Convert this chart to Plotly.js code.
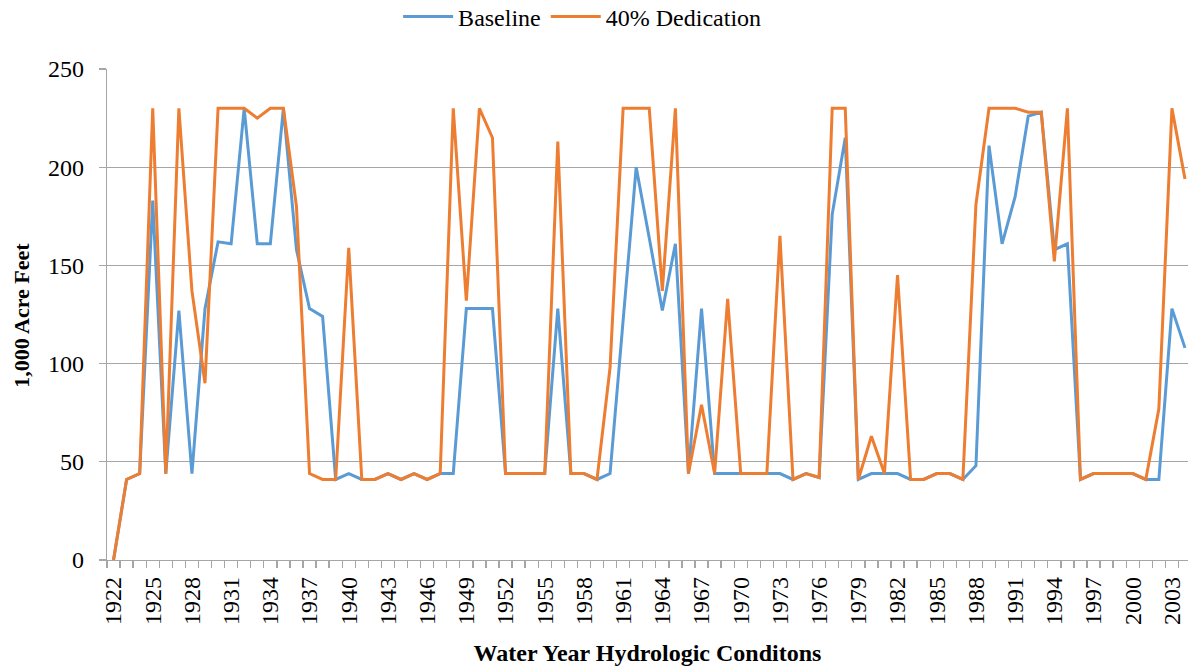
<!DOCTYPE html>
<html>
<head>
<meta charset="utf-8">
<script src="https://cdn.plot.ly/plotly-3.0.1.min.js"></script>
<style>html,body{margin:0;padding:0;background:#fff;overflow:hidden}</style>
</head>
<body>
<div id="chart" style="width:1188px;height:671px"></div>
<script>
const years = [];
for (let y = 1922; y <= 2004; y++) years.push(y);

const baseline = [
  0, 41, 44, 183, 44, 127, 44, 128, 162, 161,
  230, 161, 161, 230, 158, 128, 124, 41, 44, 41,
  41, 44, 41, 44, 41, 44, 44, 128, 128, 128,
  44, 44, 44, 44, 128, 44, 44, 41, 44, 121,
  200, 164, 127, 161, 44, 128, 44, 44, 44, 44,
  44, 44, 41, 44, 42, 176, 215, 41, 44, 44,
  44, 41, 41, 44, 44, 41, 48, 211, 161, 185,
  226, 228, 158, 161, 41, 44, 44, 44, 44, 41,
  41, 128, 108
];

const dedication40 = [
  0, 41, 44, 230, 44, 230, 137, 90, 230, 230,
  230, 225, 230, 230, 180, 44, 41, 41, 159, 41,
  41, 44, 41, 44, 41, 44, 230, 132, 230, 215,
  44, 44, 44, 44, 213, 44, 44, 41, 98, 230,
  230, 230, 137, 230, 44, 79, 44, 133, 44, 44,
  44, 165, 41, 44, 42, 230, 230, 41, 63, 44,
  145, 41, 41, 44, 44, 41, 181, 230, 230, 230,
  228, 228, 152, 230, 41, 44, 44, 44, 44, 41,
  77, 230, 194
];

const tickYears = [];
for (let y = 1922; y <= 2003; y += 3) tickYears.push(y);
const tickLabels = tickYears.map(String);

const seriesNames = ['Baseline', '40% Dedication'];
const seriesColors = ['#5B9BD5', '#ED7D31'];
const xTitle = 'Water Year Hydrologic Conditons';
const yTitle = '1,000 Acre Feet';

const serif = "'Liberation Serif', 'Times New Roman', serif";
const regular = "'Liberation Serif', 'Liberation Sans', sans-serif";

const traces = [
  {x: years, y: baseline, type: 'scatter', mode: 'lines', name: seriesNames[0],
   line: {color: seriesColors[0], width: 3}},
  {x: years, y: dedication40, type: 'scatter', mode: 'lines', name: seriesNames[1],
   line: {color: seriesColors[1], width: 3}}
];

const layout = {
  width: 1188, height: 671,
  margin: {l: 107, r: 0, t: 69, b: 111, autoexpand: false},
  paper_bgcolor: '#fff', plot_bgcolor: '#fff',
  font: {family: regular, size: 24, color: '#000'},
  showlegend: true,
  legend: {orientation: 'h', xref: 'container', yref: 'container',
           x: 0.49, xanchor: 'center', y: 0.975, yanchor: 'middle',
           font: {family: regular, size: 24, color: '#000'}, itemwidth: 50, tracegroupgap: 0},
  xaxis: {
    range: [1921.5, 2004.23],
    tickmode: 'array', tickvals: tickYears, ticktext: tickLabels,
    tickangle: -90, ticks: '', showgrid: false, zeroline: false,
    showline: true, linecolor: '#a6a6a6', linewidth: 1.3,
    tickfont: {family: regular, size: 24, color: '#000'},
    ticklabelstandoff: 6,
    minor: {tick0: 1921.5, dtick: 1, ticks: 'outside', ticklen: 7, tickcolor: '#a6a6a6', tickwidth: 1.3, showgrid: false},
    title: {text: '<b>' + xTitle + '</b>', font: {family: serif, size: 24, color: '#000'}, standoff: 20}
  },
  yaxis: {
    range: [0, 250], dtick: 50, tick0: 0,
    ticks: 'outside', ticklen: 7, tickcolor: '#a6a6a6', tickwidth: 1.3,
    showgrid: true, gridcolor: '#a6a6a6', gridwidth: 1.3,
    zeroline: false, showline: true, linecolor: '#a6a6a6', linewidth: 1.3,
    tickfont: {family: regular, size: 24, color: '#000'},
    ticklabelstandoff: 10
  },
  annotations: [{
    text: '<b>' + yTitle + '</b>', xref: 'paper', yref: 'paper',
    x: -0.0786, y: 0.4975, xanchor: 'center', yanchor: 'middle',
    textangle: -90, showarrow: false,
    font: {family: serif, size: 22, color: '#000'}
  }]
};

Plotly.newPlot('chart', traces, layout, {displayModeBar: false, staticPlot: true});
</script>
</body>
</html>
